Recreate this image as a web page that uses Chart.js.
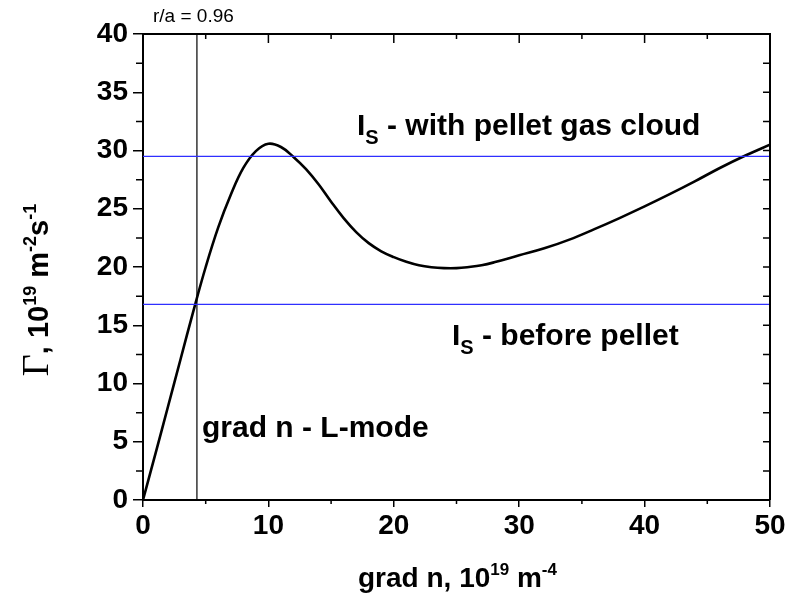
<!DOCTYPE html>
<html><head><meta charset="utf-8">
<script src="https://cdn.jsdelivr.net/npm/chart.js@4/dist/chart.umd.min.js"></script>
<style>html,body{margin:0;padding:0;background:#fff}#wrap{width:794px;height:598px}</style>
</head><body><div id="wrap"><canvas id="c" width="794" height="598"></canvas></div>
<script>
// ---- data ----
const gradN = [0,1,2,3,4,5,6,7,8,9,10,11,12,13,14,15,16,17,18,19,20,21,22,23,24,25,26,27,28,30,32,34,36,38,40,42,44,46,48,50];
const flux  = [0,4.0,8.05,12.1,16.15,20.0,23.4,26.2,28.5,29.95,30.58,30.3,29.45,28.4,27.1,25.6,24.2,23.0,22.05,21.35,20.85,20.45,20.15,19.98,19.9,19.9,20.0,20.15,20.4,21.0,21.6,22.35,23.25,24.2,25.2,26.25,27.35,28.5,29.55,30.5];
const xTicks = [0,10,20,30,40,50];
const yTicks = [0,5,10,15,20,25,30,35,40];
const xMinor = [5,15,25,35,45];
const yMinor = [2.5,7.5,12.5,17.5,22.5,27.5,32.5,37.5];
const isWithCloud = 29.5;
const isBefore = 16.8;
const lModeGrad = 4.3;
const xRange = [0,50];
const yRange = [0,40];

const FONT = "Arial, 'Liberation Sans', Helvetica, sans-serif";
const SERIF = "'Times New Roman', 'Liberation Serif', serif";

function rich(ctx, x, y, parts, align){
  let w = 0;
  parts.forEach(p=>{ctx.font=p.f; w += ctx.measureText(p.t).width;});
  let cx = align==='center' ? x - w/2 : x;
  ctx.textBaseline='alphabetic'; ctx.textAlign='left';
  parts.forEach(p=>{ctx.font=p.f; ctx.fillText(p.t, cx, y+(p.dy||0)); cx += ctx.measureText(p.t).width;});
}

const deco = {
  id:'deco',
  afterDraw(chart){
    const ctx = chart.ctx, a = chart.chartArea;
    const xs = chart.scales.x, ys = chart.scales.y;
    ctx.save();
    ctx.strokeStyle='#000'; ctx.fillStyle='#000';
    ctx.lineWidth=2;
    ctx.beginPath();
    ctx.moveTo(a.left, a.top); ctx.lineTo(a.right, a.top); ctx.lineTo(a.right, a.bottom);
    ctx.stroke();
    ctx.lineWidth=1.5;
    ctx.beginPath();
    xTicks.forEach(v=>{const px=xs.getPixelForValue(v); ctx.moveTo(px,a.top); ctx.lineTo(px,a.top+9);});
    xMinor.forEach(v=>{const px=xs.getPixelForValue(v); ctx.moveTo(px,a.top); ctx.lineTo(px,a.top+5);});
    xMinor.forEach(v=>{const px=xs.getPixelForValue(v); ctx.moveTo(px,a.bottom); ctx.lineTo(px,a.bottom+4);});
    yTicks.concat(yMinor).forEach(v=>{const py=ys.getPixelForValue(v); ctx.moveTo(a.right,py); ctx.lineTo(a.right-7,py);});
    yMinor.forEach(v=>{const py=ys.getPixelForValue(v); ctx.moveTo(a.left,py); ctx.lineTo(a.left-7,py);});
    ctx.stroke();

    ctx.font = "19px "+FONT; ctx.textAlign='left'; ctx.textBaseline='alphabetic';
    ctx.fillText('r/a = 0.96', 153, 22);

    const big = "bold 30px "+FONT, sub = "bold 20px "+FONT;
    rich(ctx, 357, 135, [{t:'I',f:big},{t:'S',f:sub,dy:9},{t:' - with pellet gas cloud',f:big}]);
    rich(ctx, 452, 345, [{t:'I',f:big},{t:'S',f:sub,dy:9},{t:' - before pellet',f:big}]);
    rich(ctx, 202, 437, [{t:'grad n - L-mode',f:big}]);

    const tf = "bold 28px "+FONT, sf = "bold 17px "+FONT;
    rich(ctx, (a.left+a.right)/2 + 1, 587, [{t:'grad n, 10',f:tf},{t:'19',f:sf,dy:-12},{t:' m',f:tf},{t:'-4',f:sf,dy:-12}], 'center');
    const yf = "bold 29px "+FONT, ysf = "bold 18px "+FONT;
    ctx.translate(48, 290); ctx.rotate(-Math.PI/2);
    rich(ctx, 0, 0, [{t:'\u0393',f:"38px "+SERIF},{t:', 10',f:yf},{t:'19',f:ysf,dy:-12},{t:' m',f:yf},{t:'-2',f:ysf,dy:-12},{t:'s',f:yf},{t:'-1',f:ysf,dy:-12}], 'center');
    ctx.restore();
  }
};

const hLine = (y)=>[{x:xRange[0],y},{x:xRange[1],y}];
new Chart(document.getElementById('c'), {
  type:'scatter',
  data:{datasets:[
    {data:hLine(isWithCloud), showLine:true, borderColor:'#2f2fff', borderWidth:1.2, pointRadius:0},
    {data:hLine(isBefore), showLine:true, borderColor:'#2f2fff', borderWidth:1.2, pointRadius:0},
    {data:[{x:lModeGrad,y:yRange[0]},{x:lModeGrad,y:yRange[1]}], showLine:true, borderColor:'#000', borderWidth:1.2, pointRadius:0},
    {data:gradN.map((x,i)=>({x,y:flux[i]})), showLine:true, borderColor:'#000', borderWidth:2.6, pointRadius:0, tension:0.4, borderJoinStyle:'round'}
  ]},
  options:{
    responsive:false, animation:false, devicePixelRatio:1,
    layout:{padding:{top:34,right:24,left:0,bottom:0}},
    plugins:{legend:{display:false}, tooltip:{enabled:false}},
    scales:{
      x:{type:'linear', min:xRange[0], max:xRange[1],
         afterBuildTicks:s=>{s.ticks=xTicks.map(v=>({value:v}));},
         ticks:{font:{family:FONT,size:28,weight:'bold'}, color:'#000', padding:2, maxRotation:0},
         grid:{drawOnChartArea:false, drawTicks:true, tickLength:7, color:'#000', tickColor:'#000', lineWidth:1.5},
         border:{display:true, color:'#000', width:2},
         afterFit:s=>{s.height=98;}},
      y:{type:'linear', min:yRange[0], max:yRange[1],
         afterBuildTicks:s=>{s.ticks=yTicks.map(v=>({value:v}));},
         ticks:{font:{family:FONT,size:28,weight:'bold'}, color:'#000', padding:5},
         grid:{drawOnChartArea:false, drawTicks:true, tickLength:10, color:'#000', tickColor:'#000', lineWidth:1.5},
         border:{display:true, color:'#000', width:2},
         afterFit:s=>{s.width=143;}}
    }
  },
  plugins:[deco]
});
</script></body></html>
